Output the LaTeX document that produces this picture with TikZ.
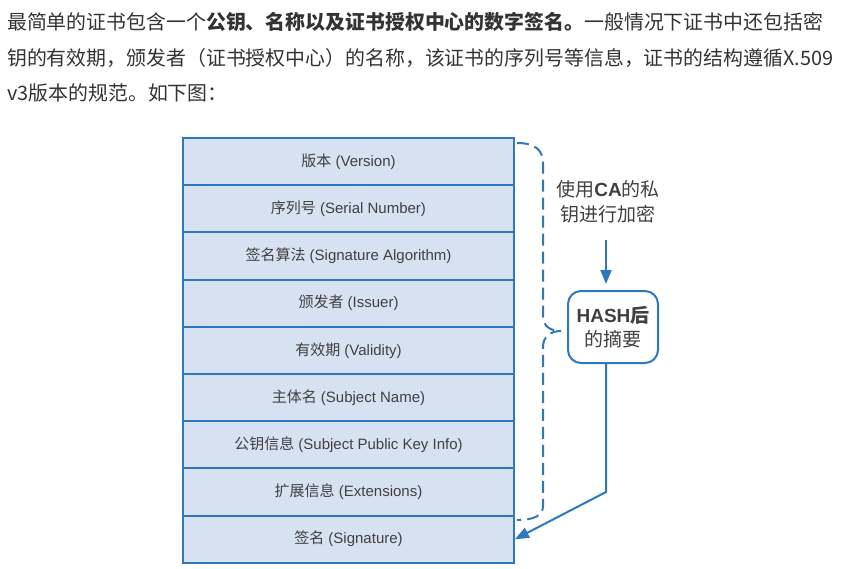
\documentclass[tikz,border=0pt]{standalone}
\usepackage{fontspec}
\setmainfont{Liberation Sans}
\newfontfamily\cjk{Noto Sans CJK SC}
\usetikzlibrary{arrows.meta}
\definecolor{bblue}{RGB}{46,120,190}
\definecolor{bfill}{RGB}{214,226,242}
\definecolor{txt}{RGB}{64,64,64}
\definecolor{ptxt}{RGB}{51,51,51}
\newcommand{\zh}[1]{{\cjk #1}}
\tikzset{
  row/.style={draw=bblue, line width=2pt, fill=bfill, minimum width=331pt, minimum height=47.2pt, inner sep=0pt, anchor=north west, text=txt, font=\fontsize{15}{18}\selectfont},
  para/.style={anchor=west, inner sep=0pt, text=ptxt, font=\cjk\fontsize{19.9}{24}\selectfont},
  hashbox/.style={draw=bblue, line width=2pt, fill=white, rounded corners=13pt, minimum width=90pt, minimum height=72pt, inner sep=0pt, text=txt, align=center, font=\cjk\fontsize{19}{24}\selectfont},
  note/.style={inner sep=0pt, text=txt, align=center, font=\cjk\fontsize{19}{25}\selectfont},
  brace/.style={draw=bblue, line width=2pt, dash pattern=on 12pt off 6pt},
  arr/.style={draw=bblue, line width=2pt, -{Triangle[length=14pt,width=11pt]}}
}
\begin{document}
\begin{tikzpicture}[x=1pt,y=-1pt]
\useasboundingbox (0,0) rectangle (859,568);
% paragraph
\node[para] (p1) at (7,22) {最简单的证书包含一个{\bfseries 公钥、名称以及证书授权中心的数字签名。}一般情况下证书中还包括密};
\node[para] (p2) at (7,58) {钥的有效期，颁发者（证书授权中心）的名称，该证书的序列号等信息，证书的结构遵循X.509};
\node[para] (p3) at (7,93) {v3版本的规范。如下图：};
% rows
\node[row] (r1) at (182,137.0) {\zh{版本} (Version)};
\node[row] (r2) at (182,184.2) {\zh{序列号} (Serial Number)};
\node[row] (r3) at (182,231.4) {\zh{签名算法} (Signature Algorithm)};
\node[row] (r4) at (182,278.6) {\zh{颁发者} (Issuer)};
\node[row] (r5) at (182,325.8) {\zh{有效期} (Validity)};
\node[row] (r6) at (182,373.0) {\zh{主体名} (Subject Name)};
\node[row] (r7) at (182,420.2) {\zh{公钥信息} (Subject Public Key Info)};
\node[row] (r8) at (182,467.4) {\zh{扩展信息} (Extensions)};
\node[row] (r9) at (182,514.6) {\zh{签名} (Signature)};
% brace
\draw[brace] (517,143) .. controls (535,143) and (543,150) .. (543,163) -- (543,316) .. controls (543,326) and (550,331) .. (561,331)
  .. controls (550,331) and (543,337) .. (543,347) -- (543,506) .. controls (543,515) and (535,520) .. (517,520);
% right side
\node[note] (ca) at (608,202) {使用{\fontspec{Liberation Sans}\bfseries CA}的私\\钥进行加密};
\node[hashbox] (hash) at (613,327) {{\fontspec{Liberation Sans}\bfseries HASH}{\bfseries 后}\\的摘要};
\coordinate (a1) at (606,240);
\coordinate (k1) at (606,492);
\draw[arr, shorten >=6pt] (a1) -- (a1 |- hash.north);
\draw[arr] (k1 |- hash.south) -- (k1) -- (r9.east);
\end{tikzpicture}
\end{document}
